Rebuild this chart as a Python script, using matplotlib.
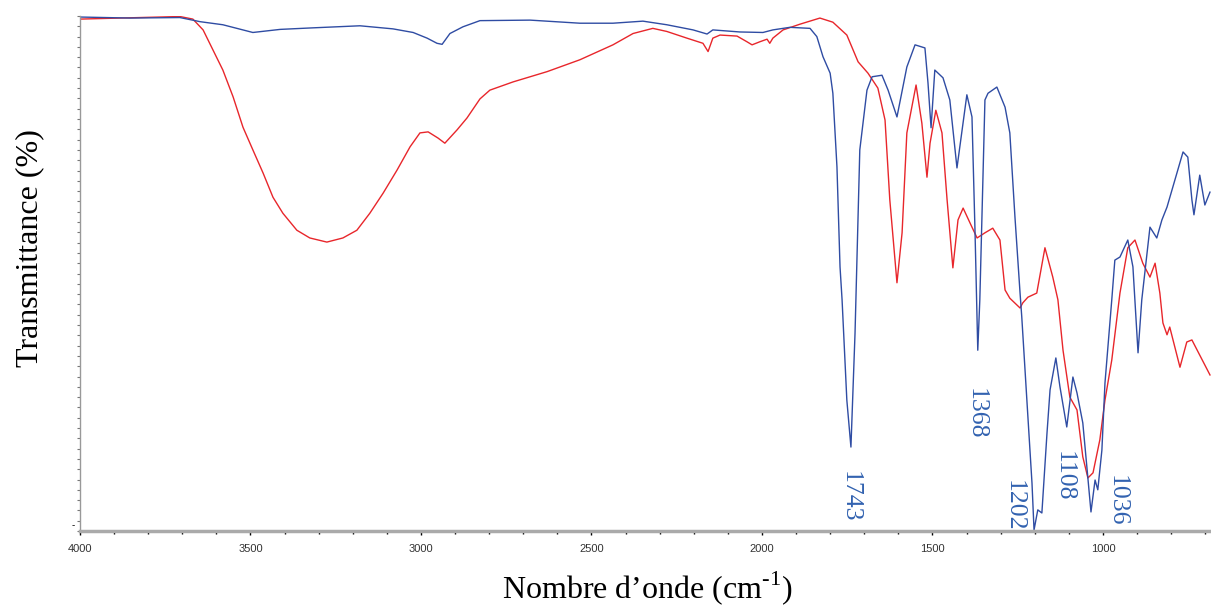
import matplotlib.pyplot as plt
from matplotlib.ticker import MultipleLocator, NullFormatter

plt.rcParams['font.family'] = ['Liberation Serif', 'DejaVu Serif']
plt.rcParams['mathtext.fontset'] = 'custom'
plt.rcParams['mathtext.rm'] = 'Liberation Serif'

# spectre bleu (nombre d'onde cm-1, transmittance %)
wn_blue = [4000, 3853, 3707, 3648, 3581, 3493, 3413, 3317, 3179, 3082, 3023, 2982,
           2953, 2938, 2915, 2877, 2827, 2680, 2534, 2437, 2349, 2279, 2202, 2161,
           2144, 2065, 1997, 1968, 1918, 1859, 1839, 1821, 1800,
           1792, 1780, 1771, 1765, 1751, 1739, 1727, 1713, 1692, 1677, 1648,
           1630, 1604, 1575, 1551, 1522, 1513, 1504, 1493, 1469, 1449, 1428, 1399,
           1384, 1375, 1367, 1361, 1346, 1337, 1311, 1287, 1273, 1258, 1243, 1238,
           1223, 1208, 1202, 1191, 1179, 1164, 1155, 1138, 1126, 1106, 1088, 1076,
           1059, 1047, 1035, 1023, 1015, 1003, 994, 974, 965, 950, 927, 912, 897,
           886, 862, 842, 827, 812, 783, 765, 751, 739, 733, 716, 701, 686]
t_blue = [99.8, 99.6, 99.7, 98.9, 98.3, 96.8, 97.4, 97.7, 98.1, 97.5, 96.8, 95.7,
          94.7, 94.5, 96.6, 97.9, 99.1, 99.2, 98.6, 98.6, 99.0, 98.3, 97.3, 96.5,
          97.3, 96.9, 96.8, 97.3, 97.8, 97.6, 96.0, 92.1, 88.9,
          85.0, 70.7, 51.3, 44.9, 25.4, 16.3, 38.4, 74.0, 85.6, 88.2, 88.5,
          85.6, 80.4, 90.1, 94.4, 93.8, 87.0, 78.3, 89.5, 88.0, 83.7, 70.5, 84.7,
          80.4, 57.9, 35.1, 44.9, 83.7, 85.0, 86.2, 82.3, 77.3, 61.0, 46.2, 41.6,
          25.4, 9.3, 0.2, 4.1, 3.5, 19.0, 27.4, 33.6, 28.0, 20.2, 29.9, 26.8,
          21.0, 12.4, 3.7, 9.9, 8.0, 15.7, 28.7, 44.9, 52.6, 53.2, 56.5, 51.3, 34.6,
          44.9, 59.0, 56.9, 60.4, 62.9, 69.5, 73.6, 72.6, 64.3, 61.4, 69.1, 63.3, 65.8]

# spectre rouge
wn_red = [4000, 3883, 3707, 3669, 3639, 3610, 3581, 3551, 3522, 3493, 3463, 3434,
          3405, 3364, 3326, 3276, 3229, 3188, 3150, 3111, 3070, 3032, 3003, 2979,
          2950, 2930, 2894, 2865, 2827, 2798, 2730, 2630, 2534, 2437, 2378, 2320,
          2279, 2220, 2173, 2158, 2144, 2123, 2073, 2044, 2029, 2006, 1985, 1977,
          1968, 1938, 1889, 1830, 1792, 1751, 1718, 1689, 1660, 1639, 1625, 1604,
          1589, 1575, 1548, 1531, 1516, 1507, 1490, 1472, 1457, 1440, 1425, 1410,
          1384, 1369, 1346, 1323, 1302, 1287, 1273, 1243, 1235, 1220, 1194, 1170,
          1147, 1132, 1117, 1097, 1076, 1059, 1044, 1029, 1009, 994, 974, 950, 927,
          906, 883, 862, 847, 833, 824, 812, 804, 774, 754, 739, 686]
t_red = [99.4, 99.6, 99.9, 99.4, 97.3, 93.4, 89.5, 84.3, 78.4, 74.0, 69.5, 64.8,
         61.7, 58.4, 56.9, 56.1, 56.9, 58.4, 61.7, 65.6, 70.1, 74.6, 77.3, 77.5,
         76.3, 75.3, 77.9, 80.2, 83.9, 85.6, 87.2, 89.2, 91.5, 94.4, 96.6, 97.6,
         97.0, 95.7, 94.7, 93.1, 95.7, 96.3, 96.1, 95.0, 94.4, 95.0, 95.5, 94.7,
         95.7, 97.3, 98.4, 99.6, 98.8, 96.3, 91.1, 88.9, 86.0, 79.8, 64.3, 48.2,
         57.9, 77.3, 86.6, 79.2, 68.7, 75.3, 81.7, 77.3, 64.3, 51.1, 60.4, 62.7,
         59.0, 56.9, 57.9, 58.8, 56.5, 46.8, 45.2, 43.3, 44.3, 45.4, 46.2, 55.0,
         49.3, 44.9, 35.1, 26.0, 23.5, 14.4, 10.3, 11.3, 17.7, 25.4, 33.2, 46.2, 55.0,
         56.5, 52.0, 49.3, 52.0, 46.2, 40.4, 38.1, 39.6, 31.8, 36.7, 37.1, 30.3]

# bandes annotees
peak_labels = ['1743', '1368', '1202', '1108', '1036']
peak_x = [1742, 1372, 1261, 1114, 959]
peak_y = [6.6, 22.7, 4.9, 10.7, 5.8]

fig = plt.figure(figsize=(12.11, 6.06), dpi=100)
ax = fig.add_axes([80/1211, 1-531/606, 1-80/1211, 515/606])

ax.plot(wn_red, t_red, color='#e8262b', lw=1.0)
ax.plot(wn_blue, t_blue, color='#2f4ca3', lw=1.0)

for lab, x, y in zip(peak_labels, peak_x, peak_y):
    ax.text(x, y, lab, rotation=-90, ha='center', va='center',
            fontsize=18.5, color='#3262b0')

ax.set_xlim(4000, 683)
ax.set_ylim(0, 100)

ax.spines['top'].set_visible(False)
ax.spines['right'].set_visible(False)
ax.spines['bottom'].set_color('#aaaaaa')
ax.spines['bottom'].set_linewidth(2.5)
ax.spines['left'].set_color('#999999')
ax.spines['left'].set_linewidth(1.0)

ax.xaxis.set_major_locator(MultipleLocator(500))
ax.xaxis.set_minor_locator(MultipleLocator(100))
ax.tick_params(axis='x', which='major', length=3, width=1, color='black',
               labelsize=8, labelcolor='#333333', pad=6)
ax.tick_params(axis='x', which='minor', length=2, width=1, color='black')
for lbl in ax.get_xticklabels():
    lbl.set_family(['Liberation Sans', 'DejaVu Sans'])

ax.yaxis.set_major_locator(MultipleLocator(2))
ax.yaxis.set_major_formatter(NullFormatter())
ax.tick_params(axis='y', length=2, width=0.8, color='#777777')

fig.text(73/1211, 1-525/606, '-', fontsize=7, ha='center', va='center',
         family=['Liberation Sans', 'DejaVu Sans'])

fig.text(30/1211, 1-248/606, 'Transmittance (%)', rotation=90,
         ha='center', va='center', fontsize=23)
fig.text(647/1211, 1-588/606, 'Nombre d’onde (cm$^{\\mathregular{‐1}}$)',
         ha='center', va='center', fontsize=23)

fig.savefig('out.png', dpi=100)
